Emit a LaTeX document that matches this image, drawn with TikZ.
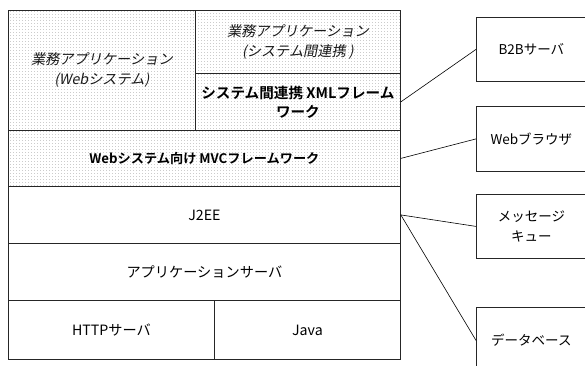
\documentclass[tikz,border=0pt]{standalone}
\usepackage{fontspec}
\setmainfont{Noto Sans CJK JP}[BoldFont={Noto Sans CJK JP Bold},AutoFakeSlant=0.2]
\usetikzlibrary{patterns.meta}
\tikzdeclarepattern{name=gdots,type=uncolored,bounding box={(0pt,0pt) and (2.6pt,2.6pt)},tile size={(2.6pt,2.6pt)},code={\fill (0pt,0pt) rectangle (1.1pt,1.1pt);}}
\begin{document}
\begin{tikzpicture}[x=1pt,y=-1pt,
  cell/.style={draw=black!85,line width=0.8pt,rectangle,inner sep=2pt,anchor=north west,align=center,font=\fontsize{14.2}{20}\selectfont},
  shaded/.style={pattern={gdots},pattern color=black!20},
  ital/.style={font=\fontsize{14.2}{20}\selectfont\itshape,text=black!90},
  boldt/.style={font=\fontsize{13.2}{19}\selectfont\bfseries},
  boldl/.style={font=\fontsize{14.6}{19}\selectfont\bfseries},
  ext/.style={draw=black!85,line width=0.8pt,rectangle,anchor=north west,minimum width=110pt,align=center,font=\fontsize{13.5}{20}\selectfont},
  conn/.style={draw=black,line width=0.6pt}]
\useasboundingbox (0,0) rectangle (585,365);
% main stack
\node[cell,shaded,ital,minimum width=187pt,minimum height=120pt] (webapp) at (8,10) {業務アプリケーション\\(Webシステム)};
\node[cell,shaded,ital,minimum width=205pt,minimum height=63pt] (sysapp) at (195,10) {業務アプリケーション\\(システム間連携 )};
\node[cell,shaded,boldl,minimum width=205pt,minimum height=57pt] (xml) at (195,73) {システム間連携 XMLフレーム\\ワーク};
\node[cell,shaded,boldt,minimum width=392pt,minimum height=56pt] (mvc) at (8,130) {Webシステム向け MVCフレームワーク};
\node[cell,minimum width=392pt,minimum height=57pt] (j2ee) at (8,186) {J2EE};
\node[cell,minimum width=392pt,minimum height=57pt] (apsv) at (8,243) {アプリケーションサーバ};
\node[cell,minimum width=206pt,minimum height=59pt] (http) at (8,300) {HTTPサーバ};
\node[cell,minimum width=186pt,minimum height=59pt] (java) at (214,300) {Java};
% external boxes
\node[ext,minimum height=64pt] (b2b) at (476,17) {B2Bサーバ};
\node[ext,minimum height=65pt] (brw) at (476,106) {Webブラウザ};
\node[ext,minimum height=64pt] (mq) at (476,194) {メッセージ\\キュー};
\node[ext,minimum height=66pt] (db) at (476,307) {データベース};
% connectors
\draw[conn] (xml.east) -- (b2b.west);
\draw[conn] (mvc.east) -- (brw.west);
\draw[conn] (j2ee.east) -- (mq.west);
\draw[conn] (j2ee.east) -- (db.west);
\end{tikzpicture}
\end{document}
